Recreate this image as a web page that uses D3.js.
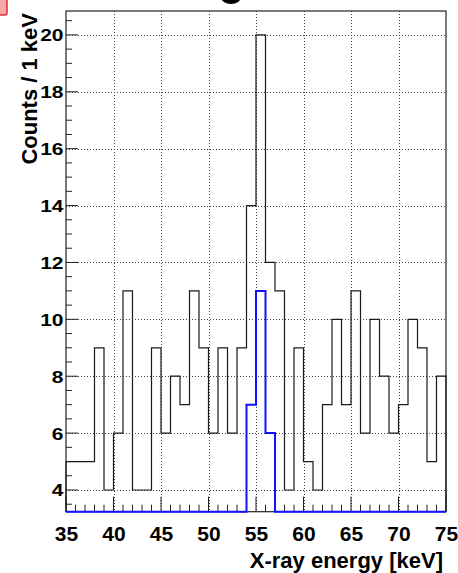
<!DOCTYPE html>
<html>
<head>
<meta charset="utf-8">
<script src="https://cdn.jsdelivr.net/npm/d3@7"></script>
<style>
  html, body { margin: 0; padding: 0; background: #fff; overflow: hidden; }
  svg { display: block; }
  text { font-family: "Liberation Sans", Arial, Helvetica, sans-serif; font-weight: bold; fill: #000; }
</style>
</head>
<body>
<svg id="chart" width="458" height="573"></svg>
<script>
// Histogram binning: 1 keV bins from 35 to 75 keV
const binEdges = d3.range(35, 76, 1);
// Counts per bin, all events
const allCounts = [5, 5, 5, 9, 4, 6, 11, 4, 4, 9,
                   6, 8, 7, 11, 9, 6, 9, 6, 9, 14,
                   20, 12, 11, 4, 9, 5, 4, 7, 10, 7,
                   11, 6, 10, 8, 6, 7, 10, 9, 5, 8];
// Counts per bin, selected events
const selCounts = [0, 0, 0, 0, 0, 0, 0, 0, 0, 0,
                   0, 0, 0, 0, 0, 0, 0, 0, 0, 7,
                   11, 6, 0, 0, 0, 0, 0, 0, 0, 0,
                   0, 0, 0, 0, 0, 0, 0, 0, 0, 0];
const xTickValues = [35, 40, 45, 50, 55, 60, 65, 70, 75];
const yTickValues = [4, 6, 8, 10, 12, 14, 16, 18, 20];
const xTitle = "X-ray energy [keV]";
const yTitle = "Counts / 1 keV";

const svg = d3.select("#chart");
const frame = { left: 66, right: 446, top: 11, bottom: 511.7 };

const x = d3.scaleLinear().domain([35, 75]).range([frame.left, frame.right]);
const y = d3.scaleLinear().domain([3.237, 20.84]).range([frame.bottom, frame.top]).clamp(true);

// partially visible marker in the upper-left corner
svg.append("rect")
  .attr("x", -10).attr("y", -6).attr("width", 17).attr("height", 21).attr("rx", 2)
  .attr("fill", "#f3a7a7").attr("stroke", "#e0302f").attr("stroke-width", 1.5);

// lowest stroke of the heading, which lies above the canvas
svg.append("ellipse")
  .attr("cx", 231).attr("cy", -3).attr("rx", 10).attr("ry", 7)
  .attr("fill", "#000");

// dotted grid at the major ticks
const grid = svg.append("g").attr("stroke", "#444").attr("stroke-width", 1)
  .attr("stroke-dasharray", "1,2");
grid.selectAll("line.gx")
  .data(xTickValues.filter(v => v > 35 && v < 75))
  .join("line").attr("class", "gx")
  .attr("x1", d => Math.round(x(d)) + 0.5).attr("x2", d => Math.round(x(d)) + 0.5)
  .attr("y1", frame.top).attr("y2", frame.bottom);
grid.selectAll("line.gy")
  .data(yTickValues)
  .join("line").attr("class", "gy")
  .attr("y1", d => Math.round(y(d)) + 0.5).attr("y2", d => Math.round(y(d)) + 0.5)
  .attr("x1", frame.left).attr("x2", frame.right);

// step outline of a histogram
function stepPath(counts) {
  const pts = [[x(binEdges[0]), frame.bottom]];
  counts.forEach((c, i) => {
    pts.push([x(binEdges[i]), y(c)]);
    pts.push([x(binEdges[i + 1]), y(c)]);
  });
  pts.push([x(binEdges[binEdges.length - 1]), frame.bottom]);
  return d3.line()(pts);
}

svg.append("path")
  .attr("d", stepPath(allCounts))
  .attr("fill", "none").attr("stroke", "#1a1a1a").attr("stroke-width", 1.2);

// frame
svg.append("rect")
  .attr("x", frame.left).attr("y", frame.top)
  .attr("width", frame.right - frame.left).attr("height", frame.bottom - frame.top)
  .attr("fill", "none").attr("stroke", "#222").attr("stroke-width", 1.2);

// x axis ticks: major every 5 keV, minor every 1 keV
const xAxis = d3.axisBottom(x)
  .tickValues(xTickValues).tickFormat(d3.format("d"))
  .tickSize(0).tickPadding(0);
const xg = svg.append("g").attr("transform", `translate(0,${frame.bottom})`).call(xAxis);
xg.select(".domain").remove();
xg.selectAll("text")
  .attr("y", 29).attr("dy", 0)
  .style("font-size", "21px").attr("fill", "#000");

svg.append("g").selectAll("line")
  .data(d3.range(35, 76, 1))
  .join("line")
  .attr("x1", d => x(d)).attr("x2", d => x(d))
  .attr("y1", frame.bottom)
  .attr("y2", d => frame.bottom - (d % 5 === 0 ? 15 : 7))
  .attr("stroke", "#222").attr("stroke-width", 1);

// y axis ticks: major every 2, minor every 0.5
const yAxis = d3.axisLeft(y)
  .tickValues(yTickValues).tickFormat(d3.format("d"))
  .tickSize(0).tickPadding(0);
const yg = svg.append("g").attr("transform", `translate(${frame.left},0)`).call(yAxis);
yg.select(".domain").remove();
yg.selectAll(".tick text")
  .attr("x", 0).attr("dy", 0)
  .attr("text-anchor", "end")
  .attr("transform", "translate(-2.5,6) scale(1,0.82)")
  .style("font-size", "21px").attr("fill", "#000");

svg.append("g").selectAll("line")
  .data(d3.range(3.5, 20.9, 0.5))
  .join("line")
  .attr("y1", d => y(d)).attr("y2", d => y(d))
  .attr("x1", frame.left)
  .attr("x2", d => frame.left + (d % 2 === 0 ? 12 : 6))
  .attr("stroke", "#222").attr("stroke-width", 1);

// selected events drawn on top
svg.append("path")
  .attr("d", stepPath(selCounts))
  .attr("fill", "none").attr("stroke", "#1010ff").attr("stroke-width", 2);

// axis titles
svg.append("text")
  .attr("x", 443).attr("y", 568)
  .attr("text-anchor", "end")
  .style("font-size", "22px")
  .text(xTitle);

svg.append("text")
  .attr("transform", "translate(36.5,13) rotate(-90)")
  .attr("text-anchor", "end")
  .style("font-size", "22px")
  .text(yTitle);
</script>
</body>
</html>
